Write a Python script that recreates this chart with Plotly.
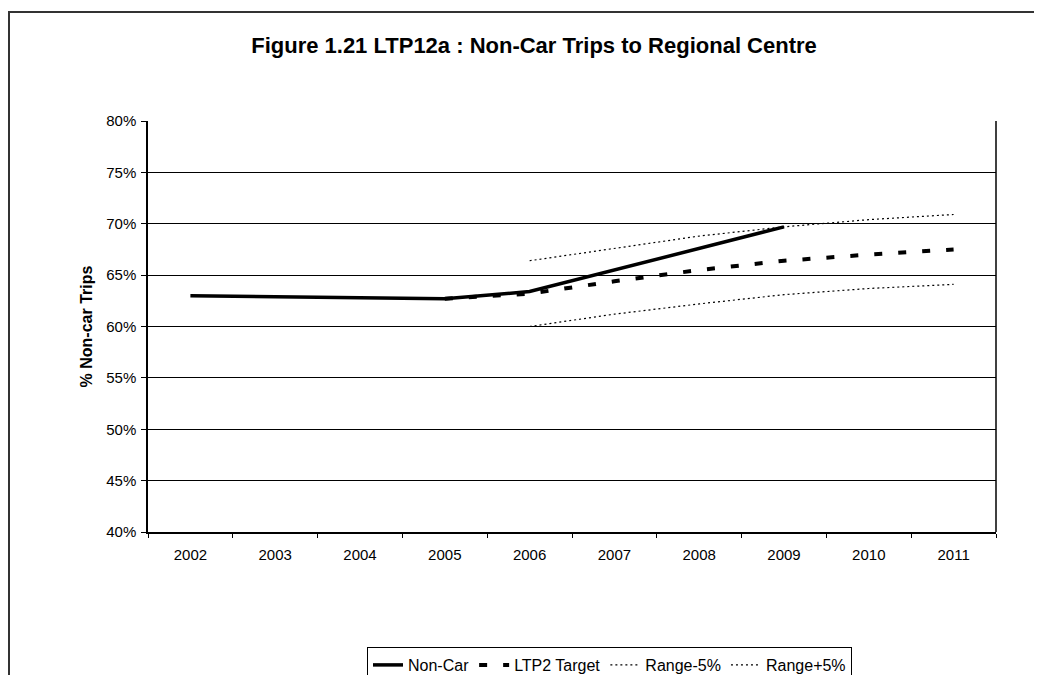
import plotly.graph_objects as go

years = ["2002", "2003", "2004", "2005", "2006", "2007", "2008", "2009", "2010", "2011"]
non_car = [0.630, None, None, 0.627, 0.634, None, None, 0.697, None, None]
target = [None, None, None, 0.627, 0.632, 0.644, 0.655, 0.664, 0.670, 0.675]
range_minus = [None, None, None, None, 0.600, 0.612, 0.622, 0.631, 0.637, 0.641]
range_plus = [None, None, None, None, 0.664, 0.676, 0.688, 0.697, 0.704, 0.709]
y_ticks = [0.40, 0.45, 0.50, 0.55, 0.60, 0.65, 0.70, 0.75, 0.80]

FONT = "Arial, 'Liberation Sans', sans-serif"

fig = go.Figure()
fig.add_trace(go.Scatter(x=years, y=non_car, name="Non-Car", mode="lines",
                         connectgaps=True, line=dict(color="black", width=3.5)))
fig.add_trace(go.Scatter(x=years, y=target, name="LTP2 Target", mode="lines",
                         connectgaps=True, line=dict(color="black", width=4, dash="8px,16px")))
fig.add_trace(go.Scatter(x=years, y=range_minus, name="Range-5%", mode="lines",
                         connectgaps=True, line=dict(color="black", width=1.2, dash="2px,3px")))
fig.add_trace(go.Scatter(x=years, y=range_plus, name="Range+5%", mode="lines",
                         connectgaps=True, line=dict(color="black", width=1.2, dash="2px,3px")))

OFF = 8  # browser body margin
L, R, T, B = 148 - OFF, 996 - OFF, 121 - OFF, 532 - OFF
W, H = 1042 - OFF, 675 - OFF
pw, ph = R - L, B - T

def px(x):
    return (x - OFF - L) / pw

def py(y):
    return (B - (y - OFF)) / ph

fig.update_layout(
    width=W, height=H,
    margin=dict(l=L, r=W - R, t=T, b=H - B, pad=0, autoexpand=False),
    paper_bgcolor="white", plot_bgcolor="white",
    font=dict(family=FONT, size=15, color="black"),
    title=dict(text="<b>Figure 1.21 LTP12a : Non-Car Trips to Regional Centre</b>",
               font=dict(family=FONT, size=22, color="black"),
               xref="container", x=(534 - OFF) / W, xanchor="center",
               yref="container", y=1 - (45 - OFF) / H, yanchor="middle"),
    showlegend=True,
    legend=dict(orientation="h", x=px(367), xanchor="left", y=py(647), yanchor="top",
                bordercolor="black", borderwidth=1, bgcolor="white",
                font=dict(family=FONT, size=16, color="black"),
                itemwidth=30, tracegroupgap=0),
    xaxis=dict(type="category", categoryorder="array", categoryarray=years,
               range=[-0.5, 9.5], showgrid=False, zeroline=False,
               showline=True, linecolor="black", linewidth=2, mirror=False,
               ticks="outside", ticklen=4, tickcolor="black", tickson="boundaries",
               ticklabelstandoff=8,
               tickfont=dict(family=FONT, size=15, color="black")),
    yaxis=dict(range=[0.40, 0.80], tickvals=y_ticks, tickformat=".0%",
               showgrid=True, gridcolor="black", gridwidth=1, zeroline=False,
               showline=True, linecolor="black", linewidth=1.5,
               ticks="outside", ticklen=5, tickcolor="black",
               ticklabelstandoff=2,
               tickfont=dict(family=FONT, size=15, color="black"),
               title=dict(text="<b>% Non-car Trips</b>", standoff=10,
                          font=dict(family=FONT, size=16, color="black"))),
)

# right border of plot area
fig.add_shape(type="line", xref="paper", yref="paper", x0=1, x1=1, y0=0, y1=1,
              line=dict(color="black", width=1.5))
# outer chart frame
fig.add_shape(type="rect", xref="paper", yref="paper",
              x0=px(9), x1=px(1070), y0=py(700), y1=py(12),
              line=dict(color="#333333", width=2), layer="below")

fig.write_html("out.html")
